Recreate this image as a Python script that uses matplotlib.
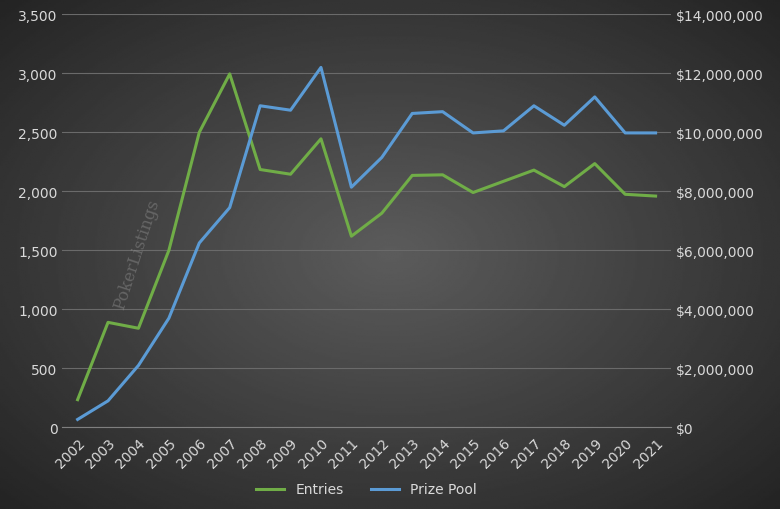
import matplotlib
matplotlib.use("Agg")
import matplotlib.pyplot as plt
import numpy as np
from matplotlib.ticker import FuncFormatter

YEARS = [str(y) for y in range(2002, 2022)]
ENTRIES = [235, 890, 840, 1500, 2500, 2995, 2185, 2145, 2445, 1620,
           1815, 2135, 2140, 1990, 2085, 2180, 2040, 2235, 1975, 1960]
PRIZE_POOL = [0.27, 0.90, 2.10, 3.70, 6.25, 7.45, 10.9, 10.75, 12.2, 8.14,
              9.15, 10.64, 10.7, 9.98, 10.05, 10.9, 10.24, 11.2, 9.98, 9.98]  # millions

GREEN = "#70ad47"
BLUE = "#5b9bd5"
TXT = "#d9d9d9"

fig = plt.figure(figsize=(7.8, 5.1), dpi=100)

# radial gradient background
bg = fig.add_axes([0, 0, 1, 1])
yy, xx = np.mgrid[-1:1:300j, -1:1:400j]
r = np.sqrt(xx ** 2 + yy ** 2) / np.sqrt(2)
bg.imshow(0.36 - 0.22 * r, cmap="gray", vmin=0, vmax=1, aspect="auto",
          extent=[0, 1, 0, 1])
bg.axis("off")

ax = fig.add_axes([0.08, 0.16, 0.78, 0.81])
ax.patch.set_alpha(0)
x = np.arange(len(YEARS))
ax.plot(x, ENTRIES, color=GREEN, lw=2.2, label="Entries")
ax.set_ylim(0, 3500)
ax.set_yticks(range(0, 3501, 500))
ax.yaxis.set_major_formatter(FuncFormatter(lambda v, p: f"{int(v):,}"))
ax.grid(axis="y", color="#6a6a6a", lw=0.8)
ax.set_axisbelow(True)
ax.set_xlim(-0.5, len(YEARS) - 0.5)
ax.set_xticks(x)
ax.set_xticklabels(YEARS, rotation=45, ha="right", rotation_mode="anchor")
for s in ax.spines.values():
    s.set_visible(False)
ax.spines["bottom"].set_visible(True)
ax.spines["bottom"].set_color("#7f7f7f")
ax.tick_params(colors=TXT, labelsize=10, length=0)
ax.tick_params(axis="x", pad=6)

ax2 = ax.twinx()
ax2.plot(x, [v * 1e6 for v in PRIZE_POOL], color=BLUE, lw=2.2, label="Prize Pool")
ax2.set_ylim(0, 14e6)
ax2.set_yticks(np.arange(0, 14.01e6, 2e6))
ax2.yaxis.set_major_formatter(FuncFormatter(lambda v, p: f"${int(v):,}"))
for s in ax2.spines.values():
    s.set_visible(False)
ax2.tick_params(colors=TXT, labelsize=10, length=0)

h1, l1 = ax.get_legend_handles_labels()
h2, l2 = ax2.get_legend_handles_labels()
fig.legend(h1 + h2, l1 + l2, loc="lower center", ncol=2, frameon=False,
           labelcolor=TXT, fontsize=10, bbox_to_anchor=(0.47, 0.0))

fig.text(0.175, 0.5, "PokerListings", rotation=72, color="#8a8a8a", alpha=0.5,
         fontsize=12, family="DejaVu Serif", ha="center", va="center")

fig.savefig("out.png", dpi=100)
